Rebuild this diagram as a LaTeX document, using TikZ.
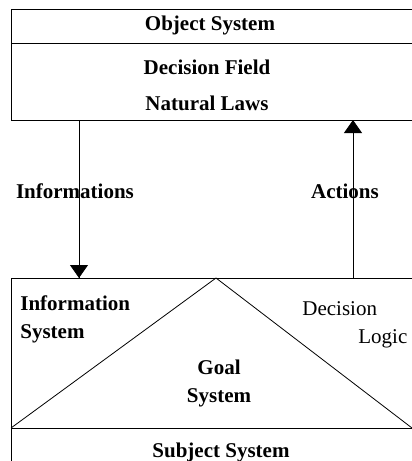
\documentclass[tikz,border=0pt]{standalone}
\usepackage{fontspec}
\setmainfont{Liberation Serif}
\usetikzlibrary{arrows.meta}
\usetikzlibrary{decorations.markings}
\usetikzlibrary{positioning}
\tikzset{flow/.style = {decoration={markings,
                                    mark=at position 1 with {\arrow{Triangle[width=18pt,length=13pt]}}},
                        postaction={decorate}}}
\tikzset{lbl/.style = {font=\fontsize{21}{25}\selectfont\bfseries, inner sep=0pt},
         plain/.style = {font=\fontsize{21}{25}\selectfont, inner sep=0pt}}

\begin{document}
\begin{tikzpicture}[x=1pt, y=-1pt, line width=0.8pt]
    \useasboundingbox (0, 0) rectangle (412, 461);

    % object system
    \draw (420, 9) -- (11, 9) -- (11, 120) -- (420, 120);
    \draw (11, 43) -- (420, 43);
    \node [lbl, anchor=base] (obj) at (210, 30) {Object System};
    \node [lbl, anchor=base] (field) at (207, 74) {Decision Field};
    \node [lbl, anchor=base] (laws) at (207, 110) {Natural Laws};

    % subject system
    \draw (420, 278) -- (11, 278) -- (11, 470);
    \draw (11, 428) -- (420, 428);
    \coordinate (apex) at (216, 278);
    \draw (11, 428) -- (apex) -- (412, 428);
    \node [lbl, anchor=base west] (info) at (20, 310) {Information};
    \node [lbl, anchor=base west] (infosys) at (20, 338) {System};
    \node [plain, anchor=base west] (dec) at (302, 315) {Decision};
    \node [plain, anchor=base west] (logic) at (358, 343) {Logic};
    \node [lbl, anchor=base] (goal) at (219, 374) {Goal};
    \node [lbl, anchor=base] (goalsys) at (219, 402) {System};
    \node [lbl, anchor=base] (subj) at (221, 457) {Subject System};

    % informations and actions
    \coordinate (infotop) at (79, 120);
    \coordinate (infobot) at (79, 278);
    \coordinate (actbot) at (353, 278);
    \coordinate (acttop) at (353, 120);
    \draw [flow] (infotop) -- (infobot);
    \draw [flow] (actbot) -- (acttop);
    \node [lbl, anchor=base] (infos) at (75, 198) {Informations};
    \node [lbl, anchor=base] (acts) at (345, 198) {Actions};
  \end{tikzpicture}
\end{document}
